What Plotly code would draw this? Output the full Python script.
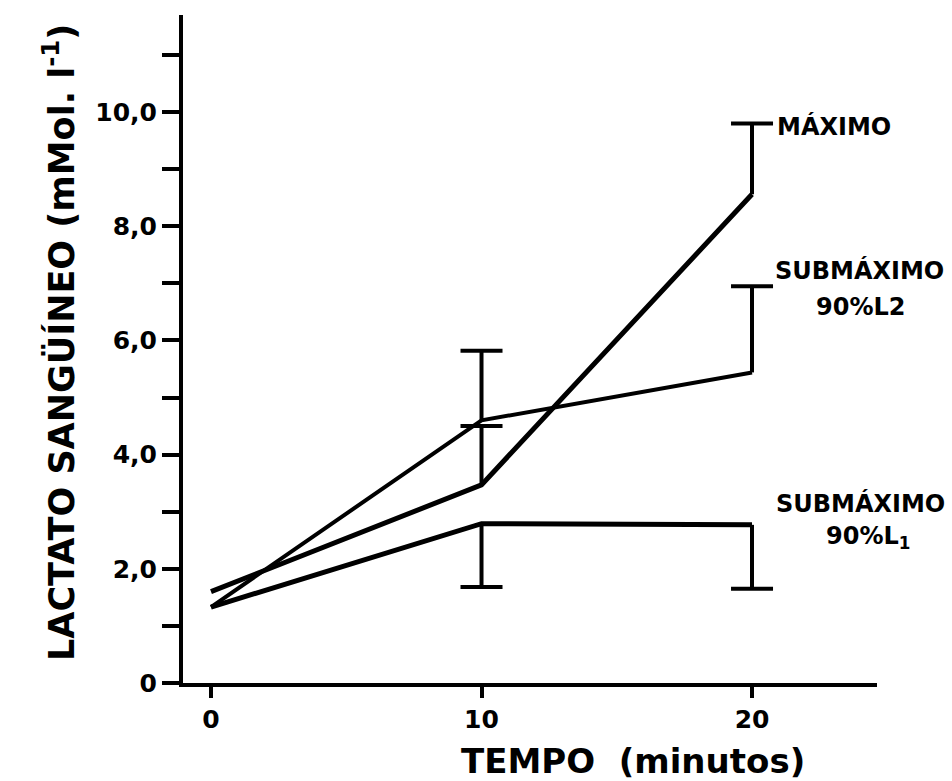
import plotly.graph_objects as go

# ---- data ----
tempo = [0, 10, 20]                       # minutes
maximo = [1.60, 3.47, 8.56]               # mMol.l-1
maximo_err_up = [0, 1.03, 1.24]
sub_l2 = [1.33, 4.60, 5.44]
sub_l2_err_up = [0, 1.22, 1.51]
sub_l1 = [1.33, 2.79, 2.77]
sub_l1_err_down = [0, 1.11, 1.12]

y_tickvals = [0, 2, 4, 6, 8, 10]
y_ticktext = ["0", "2,0", "4,0", "6,0", "8,0", "10,0"]
y_minor_tickvals = [1, 3, 5, 7, 9, 11]
x_tickvals = [0, 10, 20]
x_ticktext = ["0", "10", "20"]

W, H = 952, 781
L, R, T, B = 183, 75, 15, 98
FONT = "DejaVu Sans"


def px(xp):
    return (xp - L) / (W - L - R)


def py(yp):
    return (H - B - yp) / (H - T - B)


fig = go.Figure()

series = [
    (maximo, maximo_err_up, True, 5),
    (sub_l2, sub_l2_err_up, True, 4),
    (sub_l1, sub_l1_err_down, False, 5),
]

for ys, err, up, lw in series:
    fig.add_trace(go.Scatter(
        x=tempo, y=ys, mode="lines",
        line=dict(color="black", width=lw),
        error_y=dict(type="data", symmetric=False,
                     array=err if up else [0] * len(err),
                     arrayminus=[0] * len(err) if up else err,
                     color="black", thickness=4, width=0),
        showlegend=False, hoverinfo="skip",
    ))
    cx = [t for t, e in zip(tempo, err) if e > 0]
    cy = [v + e if up else v - e for v, e in zip(ys, err) if e > 0]
    fig.add_trace(go.Scatter(
        x=cx, y=cy, mode="markers",
        marker=dict(symbol="line-ew", size=30, color="black",
                    line=dict(color="black", width=4)),
        showlegend=False, hoverinfo="skip",
    ))

fig.update_xaxes(
    range=[-1.035, 24.62], tickvals=x_tickvals, ticktext=x_ticktext,
    showline=True, linecolor="black", linewidth=4,
    ticks="outside", ticklen=11, tickwidth=4, tickcolor="black",
    showgrid=False, zeroline=False,
    tickfont=dict(family=FONT, size=25, color="black", weight="bold"),
)
fig.update_yaxes(
    range=[0, 11.7], tickvals=y_tickvals, ticktext=y_ticktext,
    showline=True, linecolor="black", linewidth=4,
    ticks="outside", ticklen=17, tickwidth=4, tickcolor="black",
    minor=dict(tickvals=y_minor_tickvals, ticks="outside", ticklen=17,
               tickwidth=4, tickcolor="black", showgrid=False),
    showgrid=False, zeroline=False,
    tickfont=dict(family=FONT, size=25, color="black", weight="bold"),
)

ann_font = dict(family=FONT, size=24, color="black", weight="bold")
annotations = [
    dict(text="MÁXIMO", x=px(834), y=py(126)),
    dict(text="SUBMÁXIMO", x=px(859), y=py(270)),
    dict(text="90%L2", x=px(860), y=py(307)),
    dict(text="SUBMÁXIMO", x=px(860), y=py(503)),
    dict(text="90%L<sub>1</sub>", x=px(868), y=py(537)),
]
for a in annotations:
    a.update(xref="paper", yref="paper", showarrow=False,
             xanchor="center", yanchor="middle", font=ann_font)

annotations.append(dict(
    text="LACTATO SANGÜÍNEO (mMol. l<sup>-1</sup>)",
    x=px(59), y=py(343), xref="paper", yref="paper", showarrow=False,
    textangle=-90, xanchor="center", yanchor="middle",
    font=dict(family=FONT, size=35, color="black", weight="bold"),
))
annotations.append(dict(
    text="TEMPO  (minutos)",
    x=px(633), y=py(761), xref="paper", yref="paper", showarrow=False,
    xanchor="center", yanchor="middle",
    font=dict(family=FONT, size=34, color="black", weight="bold"),
))

fig.update_layout(
    width=W, height=H,
    margin=dict(l=L, r=R, t=T, b=B),
    paper_bgcolor="white", plot_bgcolor="white",
    font=dict(family=FONT, color="black"),
    annotations=annotations,
)

fig.write_html("out.html")
